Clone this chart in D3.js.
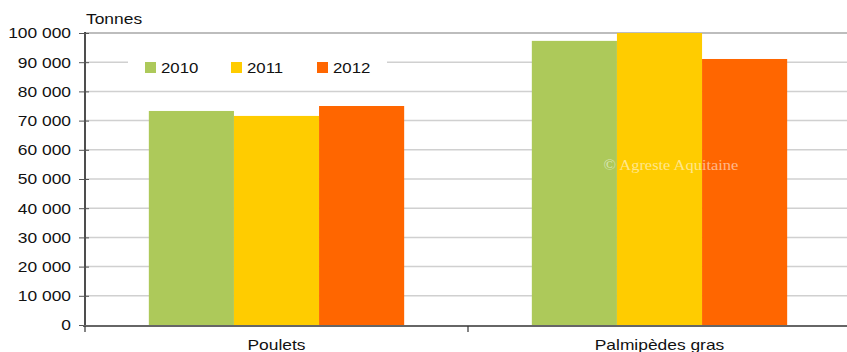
<!DOCTYPE html>
<html>
<head>
<meta charset="utf-8">
<script src="https://cdn.jsdelivr.net/npm/d3@7"></script>
<style>
  html, body { margin: 0; padding: 0; background: #fff; }
  svg { display: block; font-family: "Liberation Sans", Arial, sans-serif; }
</style>
</head>
<body>
<svg id="chart" width="847" height="352"></svg>
<script>
// Production by category and year (tonnes)
const categories = ["Poulets", "Palmipèdes gras"];
const years = ["2010", "2011", "2012"];
const values2010 = [73300, 97300];
const values2011 = [71600, 100000];
const values2012 = [75000, 91100];
const yTicks = [0, 10000, 20000, 30000, 40000, 50000, 60000, 70000, 80000, 90000, 100000];
const colors = ["#adc95a", "#ffcc00", "#ff6600"];

const seriesValues = [values2010, values2011, values2012];

const svg = d3.select("#chart");
const plotLeft = 85, plotRight = 851, plotTop = 33, plotBottom = 325;
const stretch = 1.16; // labels are set slightly wide

const x0 = d3.scaleBand().domain(categories).range([plotLeft, plotRight]).paddingInner(0).paddingOuter(0);
const x1 = d3.scaleBand().domain(years).range([0, x0.bandwidth()]).paddingInner(0).paddingOuter(0.75);
const y = d3.scaleLinear().domain([0, 100000]).range([plotBottom, plotTop]);

const fmt = v => d3.format(",")(v).replace(/,/g, " ");

// text helper with horizontal stretch
function label(parent, x, y0, txt, anchor, size, sx) {
  return parent.append("text")
    .attr("transform", `translate(${x},${y0}) scale(${sx || stretch},1)`)
    .attr("text-anchor", anchor || "start")
    .attr("font-size", size || 15)
    .attr("fill", "#111")
    .text(txt);
}

// Horizontal gridlines
svg.append("g").selectAll("line").data(yTicks.filter(t => t > 0)).join("line")
  .attr("x1", plotLeft).attr("x2", 847)
  .attr("y1", d => y(d)).attr("y2", d => y(d))
  .attr("stroke", d => d === 100000 ? "#bdbdbd" : "#d0d0d0")
  .attr("stroke-width", d => d === 100000 ? 2 : 1.5);

// Bars
const groups = svg.append("g").selectAll("g").data(categories).join("g")
  .attr("transform", d => `translate(${x0(d)},0)`);
groups.selectAll("rect")
  .data((c, ci) => years.map((yr, si) => ({ yr, v: seriesValues[si][ci], si })))
  .join("rect")
  .attr("x", d => x1(d.yr))
  .attr("width", x1.bandwidth())
  .attr("y", d => y(d.v))
  .attr("height", d => y(0) - y(d.v))
  .attr("fill", d => colors[d.si]);

// Watermark
label(svg, 671, 170, "© Agreste Aquitaine", "middle", 15.5, 1.06)
  .attr("font-family", "'Liberation Serif', 'Times New Roman', serif")
  .attr("fill", "#ffffff").attr("fill-opacity", 0.55);

// Legend
const legend = svg.append("g");
legend.append("rect").attr("x", 128).attr("y", 52).attr("width", 259).attr("height", 22).attr("fill", "#fff");
const legendX = [145, 231, 317];
years.forEach((yr, i) => {
  legend.append("rect").attr("x", legendX[i]).attr("y", 62).attr("width", 11).attr("height", 11).attr("fill", colors[i]);
  label(legend, legendX[i] + 16, 73, yr, "start", 15, 1.12);
});

// Y axis
const yAxis = svg.append("g").attr("transform", `translate(${plotLeft},0)`)
  .call(d3.axisLeft(y).tickValues(yTicks).tickFormat(fmt).tickSize(6).tickPadding(8));
yAxis.select(".domain").attr("stroke", "#222").attr("stroke-width", 1.6)
  .attr("d", `M0,${plotTop - 1}V${plotBottom + 2}`);
yAxis.selectAll(".tick line").attr("stroke", "#555").attr("x2", -6).attr("x1", 4);
yAxis.selectAll(".tick text").attr("font-size", 15).attr("fill", "#111")
  .attr("font-family", "'Liberation Sans', Arial, sans-serif")
  .attr("x", 0).attr("transform", `translate(-14,0) scale(${stretch},1)`);

// X axis
const xAxis = svg.append("g").attr("transform", `translate(0,${plotBottom + 1})`);
xAxis.append("line").attr("x1", plotLeft - 2).attr("x2", 847).attr("y1", 0).attr("y2", 0)
  .attr("stroke", "#666").attr("stroke-width", 2.2);
const sepTicks = [plotLeft, x0(categories[1])];
xAxis.selectAll(".sep").data(sepTicks).join("line").attr("class", "sep")
  .attr("x1", d => d).attr("x2", d => d).attr("y1", 0).attr("y2", 6)
  .attr("stroke", "#333").attr("stroke-width", 1.2);
categories.forEach(c => label(xAxis, x0(c) + x0.bandwidth() / 2, 24, c, "middle"));

// Unit label
label(svg, 86, 24, "Tonnes");
</script>
</body>
</html>
